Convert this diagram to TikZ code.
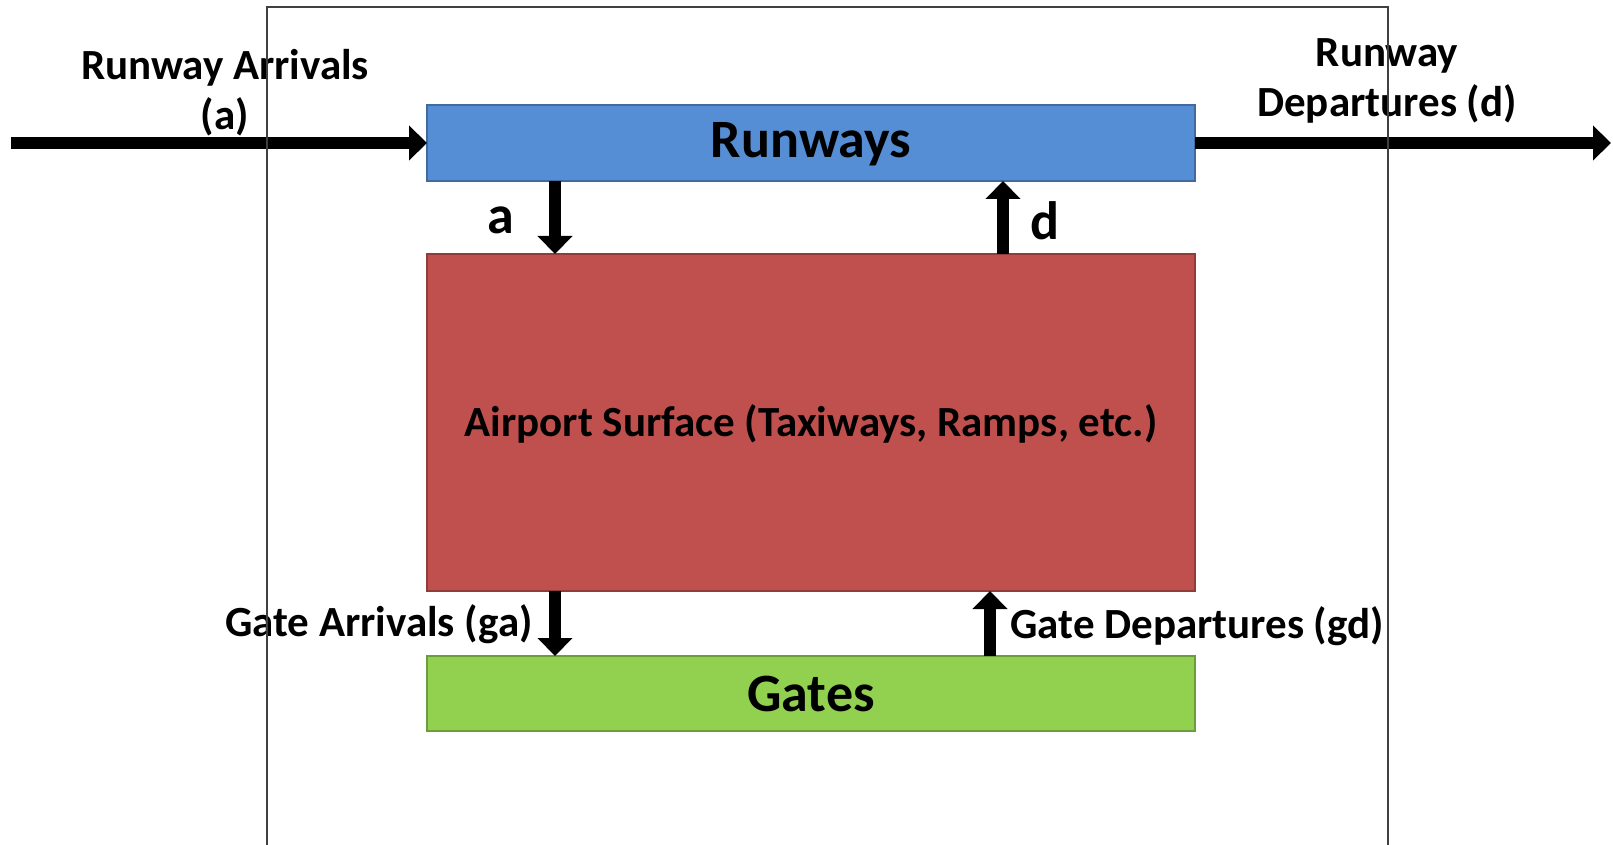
\documentclass[tikz,border=0pt]{standalone}
\usepackage{fontspec}
\setmainfont{Carlito}
\usetikzlibrary{arrows.meta}
\definecolor{rwblue}{HTML}{558ED5}
\definecolor{surfred}{HTML}{C0504D}
\definecolor{gategreen}{HTML}{92D050}
\definecolor{framegray}{HTML}{404040}
\tikzset{
  box/.style={draw=#1!75!black, fill=#1, line width=0.6pt, inner sep=0pt},
  flow/.style={line width=6pt, -{Triangle[width=17pt,length=9pt]}},
  lbl/.style={font=\fontsize{21.5}{25}\selectfont\bfseries, inner sep=0pt, align=center},
  big/.style={font=\fontsize{27}{30}\selectfont\bfseries, inner sep=0pt},
}
\begin{document}
\begin{tikzpicture}[x=0.5pt,y=-0.5pt]
\useasboundingbox (0,0) rectangle (1613,845);
% boxes
\path[box=rwblue] (427,105) rectangle (1195,181);
\path[box=surfred] (427,254) rectangle (1195,591);
\path[box=gategreen] (427,656) rectangle (1195,731);
\node[big] (runways) at (811,144) {Runways};
\node[lbl] (surface) at (811,424) {Airport Surface (Taxiways, Ramps, etc.)};
\node[big] (gates) at (811,694) {Gates};
% anchor coordinates on box edges
\coordinate (rwW) at (427,143);
\coordinate (rwE) at (1195,143);
\coordinate (inL) at (11,143);
\coordinate (outR) at (1611,143);
\coordinate (rwBa) at (555,181);
\coordinate (sfTa) at (555,254);
\coordinate (rwBd) at (1003,181);
\coordinate (sfTd) at (1003,254);
\coordinate (sfBa) at (555,591);
\coordinate (gtTa) at (555,656);
\coordinate (sfBd) at (990,591);
\coordinate (gtTd) at (990,656);
% arrows
\draw[flow] (inL) -- (rwW);
\draw[flow] (rwE) -- (outR);
\draw[flow] (rwBa) -- (sfTa);
\draw[flow] (sfTd) -- (rwBd);
\draw[flow] (sfBa) -- (gtTa);
\draw[flow] (gtTd) -- (sfBd);
% labels
\node[lbl, anchor=base] (arrlbl) at (225,130) {Runway Arrivals\\(a)};
\node[lbl, anchor=base] (deplbl) at (1387,117) {Runway\\Departures (d)};
\node[big] (alab) at (501,220) {a};
\node[big] (dlab) at (1045,221) {d};
\node[lbl, anchor=base east] (galbl) at (533,636) {Gate Arrivals (ga)};
\node[lbl, anchor=base west] (gdlbl) at (1010,638) {Gate Departures (gd)};
% frame
\draw[framegray, line width=1pt] (267,845) -- (267,7.5) -- (1388,7.5) -- (1388,845);
\end{tikzpicture}
\end{document}
